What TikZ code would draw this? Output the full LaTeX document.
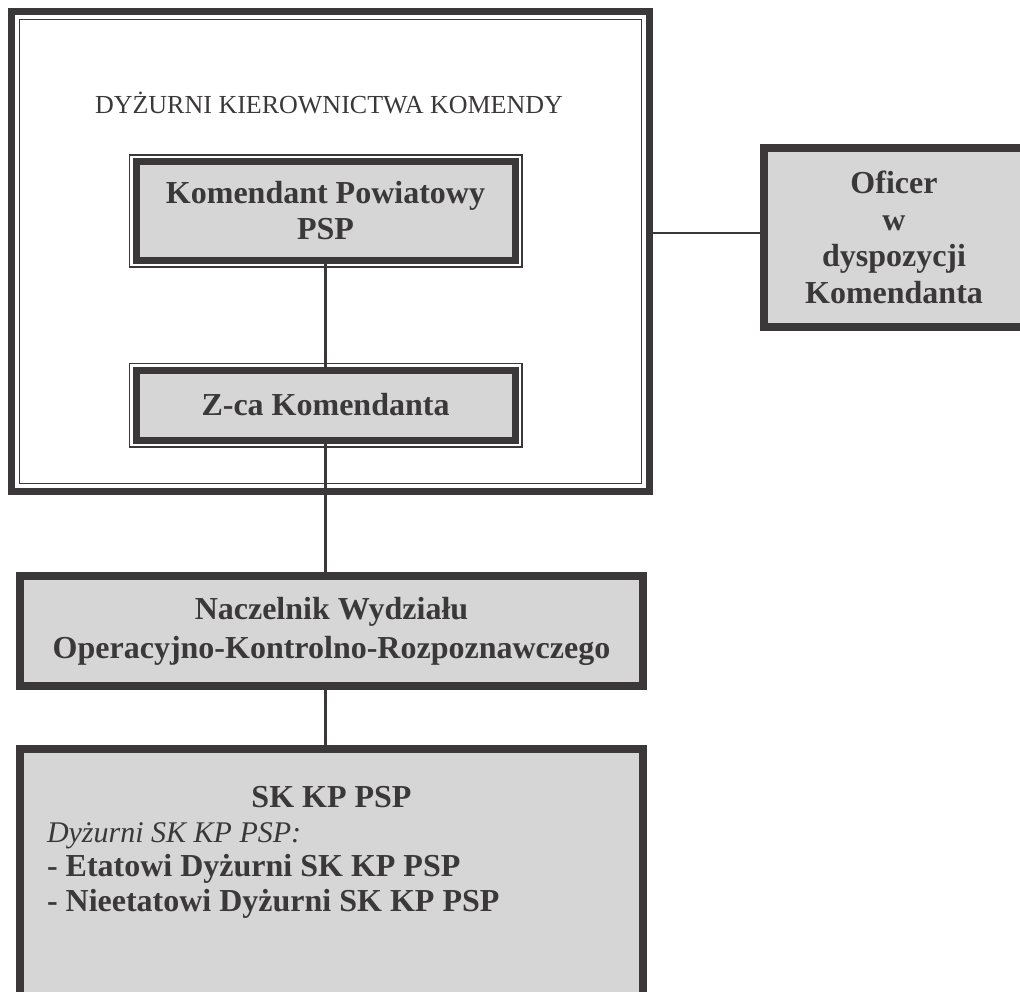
\documentclass[tikz,border=0pt]{standalone}
\usepackage{fontspec}
\setmainfont{Liberation Serif}
\definecolor{kpink}{HTML}{3A3839}
\definecolor{kpfill}{HTML}{D6D6D6}

\begin{document}
\begin{tikzpicture}[x=0.5pt,y=-0.5pt,
  every node/.style={text=kpink},
  kpbox/.style={draw=kpink,fill=kpfill,line width=3.8pt,outer sep=0pt,inner sep=0pt,align=center,
    font=\bfseries\fontsize{16}{18}\selectfont},
  kpdbl/.style={kpbox,line width=3.5pt,preaction={draw=kpink,line width=7.5pt},preaction={draw=white,line width=5.9pt}},
  kpline/.style={draw=kpink,line width=1.3pt}]
  \useasboundingbox (0,0) rectangle (1020,991);
  \clip (0,0) rectangle (1020,991);
  \draw[kpink,line width=3.5pt] (11.5,11.5) rectangle (649.5,491.5);
  \draw[kpink,line width=0.8pt] (19.5,19.5) rectangle (641.5,483.5);
  \coordinate (ramaE) at (649.5,233);
  \node[font=\fontsize{13}{15}\selectfont] (dyzurni) at (329,103) {DYŻURNI KIEROWNICTWA KOMENDY};
  \node[kpdbl,minimum width=189.5pt,minimum height=49.5pt] (kpp) at (325.5,211) {Komendant Powiatowy\\PSP};
  \node[kpdbl,minimum width=189.5pt,minimum height=35pt] (zca) at (325.5,405) {Z-ca Komendanta};
  \node[kpbox,minimum width=130.2pt,minimum height=89.7pt,font=\bfseries\fontsize{16}{18.3}\selectfont] (oficer) at (894,237.5) {Oficer\\w\\dyspozycji\\Komendanta};
  \node[kpbox,minimum width=311.7pt,minimum height=55.2pt,font=\bfseries\fontsize{16}{19.5}\selectfont] (naczelnik) at (331.5,631) {Naczelnik Wydziału\\Operacyjno-Kontrolno-Rozpoznawczego};
  \node[kpbox,inner xsep=13.6pt,inner ysep=18.85pt] (skkp) at (331.5,877.4) {\parbox[c][90.9pt][t]{284.5pt}{\fontsize{16}{17.3}\selectfont\centering SK KP PSP\par
    \raggedright{\mdseries\itshape\fontsize{15}{17.3}\selectfont Dyżurni SK KP PSP:}\par
    - Etatowi Dyżurni SK KP PSP\par
    - Nieetatowi Dyżurni SK KP PSP}};
  \draw[kpline] (kpp.south) -- (zca.north);
  \draw[kpline] (zca.south) -- (zca.south |- naczelnik.north);
  \draw[kpline] (zca.south |- naczelnik.south) -- (zca.south |- skkp.north);
  \draw[kpline] (ramaE) -- (ramaE -| oficer.west);
\end{tikzpicture}
\end{document}
